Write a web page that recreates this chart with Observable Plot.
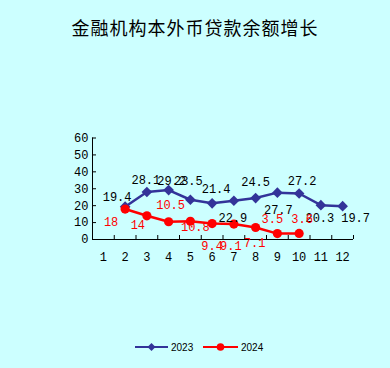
<!DOCTYPE html>
<html><head><meta charset="utf-8">
<script src="https://cdn.jsdelivr.net/npm/d3@7"></script>
<script src="https://cdn.jsdelivr.net/npm/@observablehq/plot@0.6"></script>
<style>
html,body{margin:0;padding:0;background:#CCFFFF;}
#wrap{position:relative;width:390px;height:368px;overflow:hidden;background:#CCFFFF;}
#title{position:absolute;left:0;top:15px;width:390px;text-align:center;font-family:"Noto Sans CJK SC",sans-serif;font-size:18px;letter-spacing:1px;color:#000;line-height:24px;}
#chart{position:absolute;left:0;top:40px;}
#legend{position:absolute;left:0;top:335px;}
</style></head>
<body><div id="wrap"><div id="title">金融机构本外币贷款余额增长</div><div id="chart"></div><div id="legend"></div></div>
<script>
// ---- data ----
const months = [1,2,3,4,5,6,7,8,9,10,11,12];
const seriesNames = ["2023","2024"];
const months2023 = [2,3,4,5,6,7,8,9,10,11,12];
const values2023 = [19.4,28.1,29.2,23.5,21.4,22.9,24.5,27.7,27.2,20.3,19.7];
const months2024 = [2,3,4,5,6,7,8,9,10];
const values2024 = [18,14,10.5,10.8,9.4,9.1,7.1,3.5,3.6];
const yTicks = [0,10,20,30,40,50,60];

// ---- label placement (pixel offsets from each point) ----
const off2023 = [[-8,-10],[-1,-12],[3,-9],[-2,-19],[4,-14],[-1,17],[0,-16],[1,18],[3,-12],[-1,13],[13,12]];
const off2024 = [[-14,13],[-9,9],[2,-17],[5,6],[0,23],[-3,22],[-1,16],[-5,-14],[3,-14]];

const c2023 = "#333399", c2024 = "#FF0000";
const data2023 = months2023.map((m,i)=>({m, v: values2023[i]}));
const data2024 = months2024.map((m,i)=>({m, v: values2024[i]}));
const boundaries = d3.range(1.5, 13, 1);
const numFont = "Liberation Mono, monospace";

const W = 390, H = 260;
const mL = 92, mR = 37, mT = 97.5, mB = 61;
const pxX = 12/(W-mL-mR), pxY = 60/(H-mT-mB);

const labelMarks = [];
data2023.forEach((d,i)=>labelMarks.push(Plot.text([d], {x:"m", y:"v", text:d=>String(d.v), dx:off2023[i][0], dy:off2023[i][1], fill:"#000", fontSize:12, fontFamily:numFont})));
data2024.forEach((d,i)=>labelMarks.push(Plot.text([d], {x:"m", y:"v", text:d=>String(d.v), dx:off2024[i][0], dy:off2024[i][1], fill:c2024, fontSize:12, fontFamily:numFont})));

const chart = Plot.plot({
  width: W, height: H,
  marginLeft: mL, marginRight: mR, marginTop: mT, marginBottom: mB,
  style: {background: "transparent", overflow: "visible"},
  x: {domain: [0.5, 12.5], axis: null},
  y: {domain: [0, 60], axis: null},
  marks: [
    Plot.ruleX([0.5], {y1: 0, y2: 60, stroke: "#000", strokeWidth: 1}),
    Plot.ruleY([0], {x1: 0.5, x2: 12.5, stroke: "#000", strokeWidth: 1}),
    Plot.ruleY(yTicks, {y: d=>d, x1: 0.5, x2: 0.5 + 4*pxX, stroke: "#000"}),
    Plot.ruleX(boundaries, {x: d=>d, y1: 0, y2: 4*pxY, stroke: "#000"}),
    Plot.text(yTicks, {x: 0.5, y: d=>d, text: d=>String(d), dx: -4, textAnchor: "end", fontSize: 12, fontFamily: numFont, fill: "#000"}),
    Plot.text(months, {x: d=>d, y: 0, text: d=>String(d), dy: 18, fontSize: 12, fontFamily: numFont, fill: "#000"}),
    Plot.line(data2023, {x: "m", y: "v", stroke: c2023, strokeWidth: 2.5}),
    Plot.dot(data2023, {x: "m", y: "v", symbol: "diamond2", r: 4.8, fill: c2023, stroke: "none"}),
    Plot.line(data2024, {x: "m", y: "v", stroke: c2024, strokeWidth: 2.5}),
    Plot.dot(data2024, {x: "m", y: "v", r: 4.6, fill: c2024, stroke: "none"}),
    ...labelMarks
  ]
});
document.getElementById("chart").appendChild(chart);

// legend
const lg = d3.select("#legend").append("svg").attr("width", 390).attr("height", 24);
const cy = 12;
const items = [
  {name: seriesNames[0], color: c2023, x0: 135, x1: 168, sym: "diamond"},
  {name: seriesNames[1], color: c2024, x0: 203, x1: 238, sym: "circle"}
];
items.forEach(it=>{
  lg.append("line").attr("x1", it.x0).attr("x2", it.x1).attr("y1", cy).attr("y2", cy).attr("stroke", it.color).attr("stroke-width", 2);
  const mx = (it.x0+it.x1)/2;
  if (it.sym === "diamond") {
    lg.append("path").attr("d", `M${mx},${cy-4}L${mx+4},${cy}L${mx},${cy+4}L${mx-4},${cy}Z`).attr("fill", it.color);
  } else {
    lg.append("circle").attr("cx", mx).attr("cy", cy).attr("r", 3.8).attr("fill", it.color);
  }
  lg.append("text").attr("x", it.x1 + 3).attr("y", cy).attr("dy", "0.35em").attr("font-size", 10).attr("font-family", "Liberation Sans, Arial, sans-serif").attr("fill", "#000").text(it.name);
});
</script>
</body></html>
